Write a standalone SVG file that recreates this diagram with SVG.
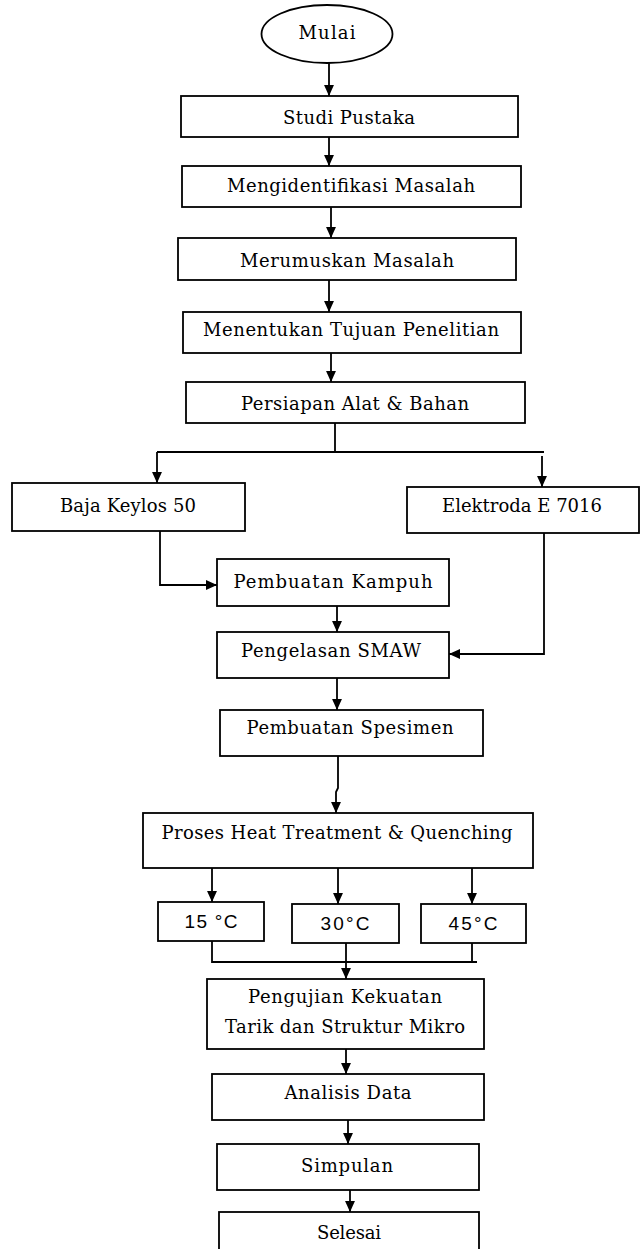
<svg xmlns="http://www.w3.org/2000/svg" width="641" height="1249" viewBox="0 0 641 1249">
<defs>
<marker id="arr" markerUnits="userSpaceOnUse" markerWidth="11" markerHeight="11" viewBox="0 0 10 10" refX="10" refY="5" orient="auto">
<path d="M0,0.5 L10,5 L0,9.5 z" fill="#000"/>
</marker>
<style>
.box{fill:#fff;stroke:#000;stroke-width:1.8}
.t{font-family:"DejaVu Serif","Liberation Serif",serif;font-size:18px;fill:#000;text-anchor:middle}
.s{font-family:"Liberation Sans","Open Sans",sans-serif;font-size:19px;fill:#000;text-anchor:middle}
.c{fill:none;stroke:#000;stroke-width:1.8}
.a{marker-end:url(#arr)}
</style>
</defs>
<rect width="641" height="1249" fill="#fff"/>
<g id="connectors">
<path class="c a" d="M329,63 V96"/>
<path class="c a" d="M329,137 V166"/>
<path class="c a" d="M331,207 V238"/>
<path class="c a" d="M329,280 V312"/>
<path class="c a" d="M331,353 V382"/>
<path class="c" d="M335,423 V452 M157,452 H544"/>
<path class="c a" d="M157,452 V483"/>
<path class="c a" d="M542,456 V487"/>
<path class="c a" d="M160,531 V585 H217"/>
<path class="c a" d="M544,533 V654 H449"/>
<path class="c a" d="M337,606 V632"/>
<path class="c a" d="M337,678 V710"/>
<path class="c a" d="M338,756 V788 L336,792 V813"/>
<path class="c a" d="M212,868 V902"/>
<path class="c a" d="M338,868 V904"/>
<path class="c a" d="M472,868 V904"/>
<path class="c" d="M212,941 V962 H477 M472,943 V962"/>
<path class="c a" d="M346,943 V979"/>
<path class="c a" d="M346,1049 V1074"/>
<path class="c a" d="M348,1120 V1144"/>
<path class="c a" d="M350,1190 V1212"/>
</g>
<g id="mulai"><ellipse class="box" cx="327" cy="34" rx="65.5" ry="29"/><text class="t" x="327" y="39" textLength="57">Mulai</text></g>
<g id="studi"><rect class="box" x="181" y="96" width="337" height="41"/><text class="t" x="349" y="124" textLength="132">Studi Pustaka</text></g>
<g id="identifikasi"><rect class="box" x="182" y="166" width="339" height="41"/><text class="t" x="351" y="192" textLength="248">Mengidentifikasi Masalah</text></g>
<g id="merumuskan"><rect class="box" x="178" y="238" width="338" height="42"/><text class="t" x="347" y="267" textLength="214">Merumuskan Masalah</text></g>
<g id="tujuan"><rect class="box" x="183" y="312" width="338" height="41"/><text class="t" x="351" y="336" textLength="296">Menentukan Tujuan Penelitian</text></g>
<g id="persiapan"><rect class="box" x="186" y="382" width="339" height="41"/><text class="t" x="355" y="410" textLength="228">Persiapan Alat &amp; Bahan</text></g>
<g id="baja"><rect class="box" x="12" y="483" width="233" height="48"/><text class="t" x="128" y="512" textLength="136">Baja Keylos 50</text></g>
<g id="elektroda"><rect class="box" x="407" y="487" width="232" height="46"/><text class="t" x="522" y="512" textLength="160">Elektroda E 7016</text></g>
<g id="kampuh"><rect class="box" x="217" y="559" width="232" height="47"/><text class="t" x="333" y="588" textLength="199">Pembuatan Kampuh</text></g>
<g id="pengelasan"><rect class="box" x="217" y="632" width="232" height="46"/><text class="t" x="331" y="657" textLength="180">Pengelasan SMAW</text></g>
<g id="spesimen"><rect class="box" x="220" y="710" width="263" height="46"/><text class="t" x="350" y="734" textLength="207">Pembuatan Spesimen</text></g>
<g id="heat"><rect class="box" x="143" y="813" width="390" height="55"/><text class="t" x="337" y="839" textLength="351">Proses Heat Treatment &amp; Quenching</text></g>
<g id="t15"><rect class="box" x="158" y="902" width="106" height="39"/><text class="s" x="211" y="928" textLength="53">15 °C</text></g>
<g id="t30"><rect class="box" x="292" y="904" width="107" height="39"/><text class="s" x="345" y="930" textLength="49">30°C</text></g>
<g id="t45"><rect class="box" x="421" y="904" width="105" height="39"/><text class="s" x="473" y="930" textLength="49">45°C</text></g>
<g id="pengujian"><rect class="box" x="207" y="979" width="277" height="70"/><text class="t" x="345" y="1003" textLength="194">Pengujian Kekuatan</text><text class="t" x="345" y="1033" textLength="240">Tarik dan Struktur Mikro</text></g>
<g id="analisis"><rect class="box" x="212" y="1074" width="272" height="46"/><text class="t" x="348" y="1099" textLength="127">Analisis Data</text></g>
<g id="simpulan"><rect class="box" x="217" y="1144" width="262" height="46"/><text class="t" x="347" y="1172" textLength="92">Simpulan</text></g>
<g id="selesai"><rect class="box" x="219" y="1212" width="260" height="50"/><text class="t" x="349" y="1239" textLength="64">Selesai</text></g>
</svg>
